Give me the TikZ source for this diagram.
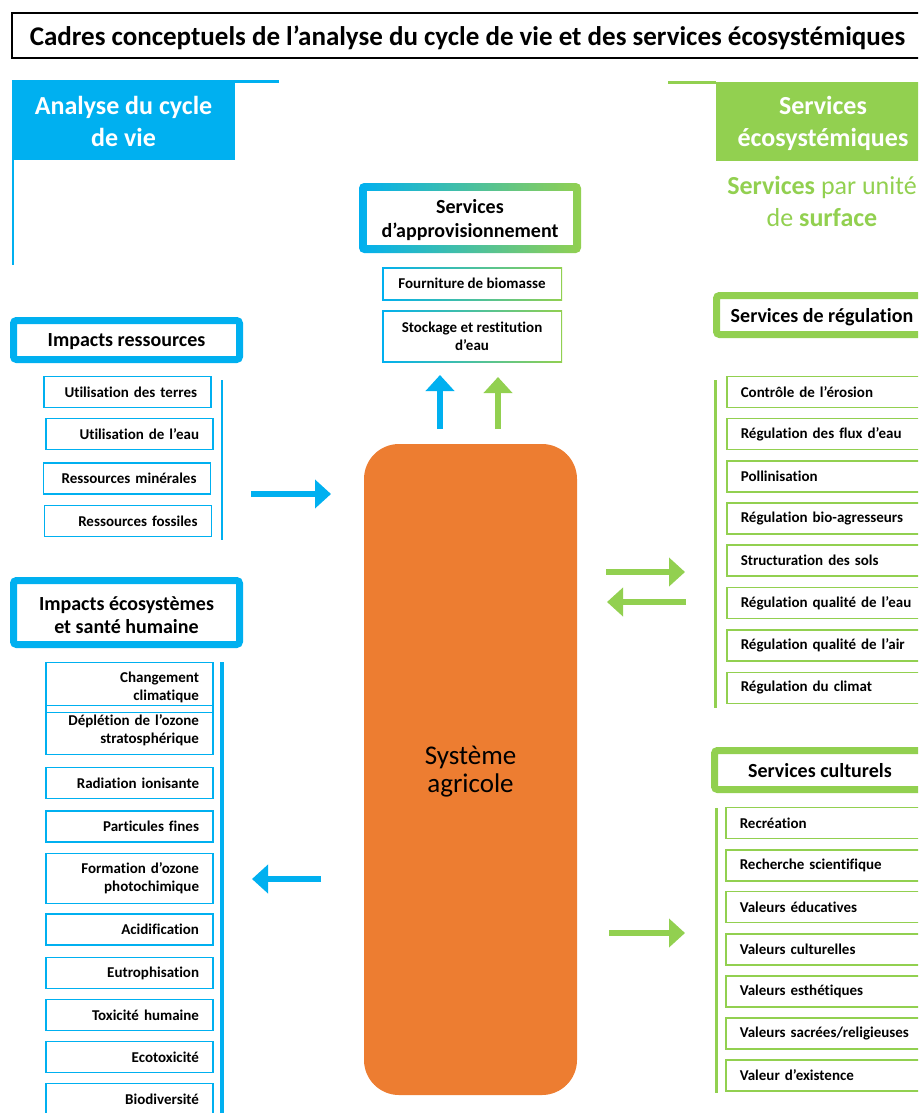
\documentclass[tikz,border=0pt]{standalone}
\usepackage{fontspec}
\setmainfont{Carlito}[Ligatures=NoCommon]
\usepackage{tikz}
\usetikzlibrary{arrows.meta}

\definecolor{acvblue}{HTML}{00B0F0}
\definecolor{segreen}{HTML}{92D050}
\definecolor{sysorange}{HTML}{ED7D31}

\begin{document}
\begin{tikzpicture}[x=1pt, y=-1pt,
    head/.style={draw, line width=7pt, rounded corners=3pt, fill=white, align=center, inner sep=0pt,
        text depth=0pt, font=\bfseries\fontsize{20}{23}\selectfont},
    impact/.style={draw=acvblue, line width=1.5pt, text width=139pt, align=right, inner xsep=14pt,
        minimum height=31, font=\bfseries\fontsize{15}{18}\selectfont},
    service/.style={draw=segreen, line width=1.5pt, text width=190pt, align=left, inner xsep=14pt,
        minimum height=31, anchor=west, font=\bfseries\fontsize{15}{18}\selectfont},
    bluearrow/.style={acvblue, line width=6pt, -{Triangle[width=28pt,length=16pt]}},
    greenarrow/.style={segreen, line width=6pt, -{Triangle[width=28pt,length=16pt]}}]

    \useasboundingbox (0,0) rectangle (918,1113);
    \clip (0,0) rectangle (918,1113);

    \node [draw, line width=1.5pt, minimum width=911, minimum height=45, text depth=0pt,
        font=\bfseries\fontsize{27}{30}\selectfont]
        (T) at (467.5,35.5) {Cadres conceptuels de l’analyse du cycle de vie et des services écosystémiques};

    \node [fill=acvblue, text=white, minimum width=223, minimum height=78, align=center,
        font=\bfseries\fontsize{26}{32}\selectfont] (ACV) at (123.5,121) {Analyse du cycle\\de vie};
    \draw [acvblue, line width=3pt] (ACV.north west) -- ([xshift=44pt]ACV.north east);
    \draw [acvblue, line width=2.5pt] ([xshift=1pt]ACV.south west) -- ++(0,105);

    \node [fill=segreen, text=white, minimum width=214, minimum height=78, align=center, text depth=0pt,
        font=\bfseries\fontsize{26}{32}\selectfont] (SE) at (823,121.5) {Services\\écosystémiques};
    \draw [segreen, line width=3pt] (SE.north west) -- ([xshift=-48pt]SE.north west);
    \node [text=segreen, align=center, font=\fontsize{26}{32}\selectfont]
        (SU) at (822,201) {\textbf{Services} par unité\\de \textbf{surface}};

    \shade [left color=acvblue, right color=segreen, rounded corners=5pt] (359,183) rectangle (581,253);
    \fill [white] (367,191) rectangle (573,245);
    \node [align=center, font=\bfseries\fontsize{20}{24}\selectfont] (P0) at (470,220) {Services\\d’approvisionnement};
    \shade [left color=acvblue, right color=segreen] (382,267) rectangle (562,300);
    \node [fill=white, minimum width=177, minimum height=30, inner sep=0pt,
        font=\bfseries\fontsize{15}{18}\selectfont] (P1) at (472,283.5) {Fourniture de biomasse};
    \shade [left color=acvblue, right color=segreen] (382,310) rectangle (562,362);
    \node [fill=white, minimum width=177, minimum height=49, align=center, inner sep=0pt,
        font=\bfseries\fontsize{15}{18}\selectfont] (P2) at (472,336) {Stockage et restitution\\d’eau};

    \node [fill=sysorange, rounded corners=35pt, minimum width=213, minimum height=651, align=center,
        text depth=0pt, font=\fontsize{27}{28}\selectfont] (S) at (470.5,769.5) {Système\\agricole};

    \node [head, draw=acvblue, minimum width=226, minimum height=39] (IR) at (126.5,340) {Impacts ressources};
    \node [impact] (R1) at (127.5,392) {Utilisation des terres};
    \node [impact] (R2) at (129.5,434) {Utilisation de l’eau};
    \node [impact] (R3) at (127,478.5) {Ressources minérales};
    \node [impact] (R4) at (128,521) {Ressources fossiles};
    \draw [acvblue, line width=2.5pt] (222,380) -- (222,540);

    \node [head, draw=acvblue, minimum width=226, minimum height=64, text height=42pt] (IE) at (126.5,612.5) {Impacts écosystèmes\\et santé humaine};
    \node [impact, minimum height=50] (E1) at (129.5,687.5) {Changement\\climatique};
    \node [impact, minimum height=49] (E2) at (129.5,730) {Déplétion de l’ozone\\stratosphérique};
    \node [impact] (E3) at (129.5,783) {Radiation ionisante};
    \node [impact] (E4) at (129.5,826.5) {Particules fines};
    \node [impact, minimum height=50] (E5) at (129.5,878.5) {Formation d’ozone\\photochimique};
    \node [impact] (E6) at (129.5,929.5) {Acidification};
    \node [impact] (E7) at (129.5,973) {Eutrophisation};
    \node [impact] (E8) at (129.5,1015) {Toxicité humaine};
    \node [impact] (E9) at (129.5,1057) {Ecotoxicité};
    \node [impact] (E10) at (129.5,1099) {Biodiversité};
    \draw [acvblue, line width=3.5pt] (222,662) -- (222,1113);

    \node [head, draw=segreen, minimum width=211, minimum height=39] (SR) at (822,315) {Services de régulation};
    \node [service] (G1) at (726,392) {Contrôle de l’érosion};
    \node [service] (G2) at (726,434) {Régulation des flux d’eau};
    \node [service] (G3) at (726,476.5) {Pollinisation};
    \node [service] (G4) at (726,518.5) {Régulation bio-agresseurs};
    \node [service] (G5) at (726,560.5) {Structuration des sols};
    \node [service] (G6) at (726,603) {Régulation qualité de l’eau};
    \node [service] (G7) at (726,645.5) {Régulation qualité de l’air};
    \node [service] (G8) at (726,688) {Régulation du climat};
    \draw [segreen, line width=3pt] (715,380) -- (715,708);

    \node [head, draw=segreen, minimum width=211, minimum height=39] (SC) at (820,770) {Services culturels};
    \node [service] (C1) at (725,823) {Recréation};
    \node [service] (C2) at (725,865.5) {Recherche scientifique};
    \node [service] (C3) at (725,907) {Valeurs éducatives};
    \node [service] (C4) at (725,949.5) {Valeurs culturelles};
    \node [service] (C5) at (725,991.5) {Valeurs esthétiques};
    \node [service] (C6) at (725,1033.5) {Valeurs sacrées/religieuses};
    \node [service] (C7) at (725,1075.5) {Valeur d’existence};
    \draw [segreen, line width=3pt] (716,808) -- (716,1093);

    \coordinate (u1) at (440,429);
    \coordinate (u2) at (440,375);
    \coordinate (v1) at (498,429);
    \coordinate (v2) at (498,377);
    \coordinate (r1) at (251,494);
    \coordinate (r2) at (331,494);
    \coordinate (l1) at (321,879);
    \coordinate (l2) at (252,879);
    \coordinate (g1) at (606,572);
    \coordinate (g2) at (685,572);
    \coordinate (h1) at (686,602);
    \coordinate (h2) at (607,602);
    \coordinate (k1) at (609,933);
    \coordinate (k2) at (685,933);

    \draw [bluearrow] (u1) -- (u2);
    \draw [greenarrow] (v1) -- (v2);
    \draw [bluearrow] (r1) -- (r2);
    \draw [bluearrow] (l1) -- (l2);
    \draw [greenarrow] (g1) -- (g2);
    \draw [greenarrow] (h1) -- (h2);
    \draw [greenarrow] (k1) -- (k2);

\end{tikzpicture}
\end{document}
